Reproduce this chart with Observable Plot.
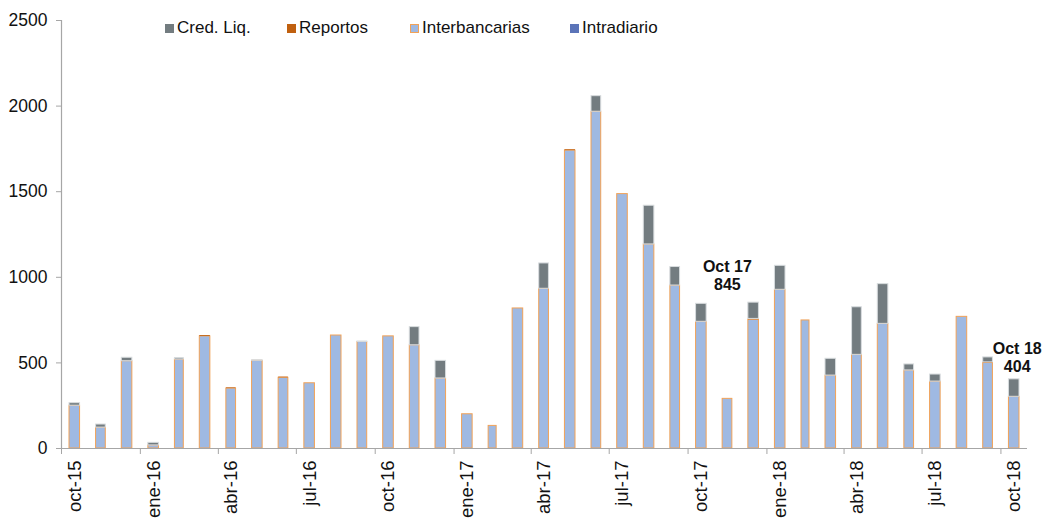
<!DOCTYPE html>
<html>
<head>
<meta charset="utf-8">
<script src="https://cdn.jsdelivr.net/npm/d3@7"></script>
<script src="https://cdn.jsdelivr.net/npm/@observablehq/plot@0.6"></script>
<style>
  html, body { margin: 0; padding: 0; background: #fff; }
  #wrap { position: relative; width: 1044px; height: 519px; font-family: "Liberation Sans", Arial, sans-serif; }
  #legend { position: absolute; top: 18px; left: 0; font-size: 17px; color: #111; }
  #legend .item { position: absolute; top: 0; display: flex; align-items: center; gap: 3px; white-space: nowrap; }
  #legend .sw { width: 9px; height: 9px; box-sizing: border-box; }
</style>
</head>
<body>
<div id="wrap"><div id="legend"></div></div>
<script>
// Months (Spanish labels), oct-15 .. oct-18
const months = ["oct-15","nov-15","dic-15","ene-16","feb-16","mar-16","abr-16","may-16","jun-16","jul-16","ago-16","sep-16",
  "oct-16","nov-16","dic-16","ene-17","feb-17","mar-17","abr-17","may-17","jun-17","jul-17","ago-17","sep-17",
  "oct-17","nov-17","dic-17","ene-18","feb-18","mar-18","abr-18","may-18","jun-18","jul-18","ago-18","sep-18","oct-18"];
const axisLabels = ["oct-15","ene-16","abr-16","jul-16","oct-16","ene-17","abr-17","jul-17","oct-17","ene-18","abr-18","jul-18","oct-18"];
const yTicks = [0, 500, 1000, 1500, 2000, 2500];

const interbancarias = [250,122,510,18,520,655,350,512,413,381,660,622,
  655,603,409,200,132,818,933,1740,1967,1486,1192,952,
  740,290,752,927,748,426,547,728,456,391,769,500,302];
const reportos = [0,0,0,0,0,5,4,0,4,0,0,0,
  0,0,0,0,0,0,0,5,0,0,0,0,
  0,0,5,0,0,0,0,0,0,0,0,3,0];
const credLiq = [15,18,20,15,8,0,0,3,0,0,0,3,
  0,106,103,0,0,0,148,0,91,0,226,108,
  105,0,95,140,0,98,278,232,35,41,0,29,102];
const intradiario = new Array(37).fill(0);

const seriesNames = ["Interbancarias","Reportos","Cred. Liq.","Intradiario"];
const seriesFill = {"Interbancarias":"#9fb9e2","Reportos":"#c0600f","Cred. Liq.":"#737c80","Intradiario":"#5b74b8"};
const seriesStroke = {"Interbancarias":"#f2a257","Reportos":"none","Cred. Liq.":"#d8dcde","Intradiario":"none"};
const legendOrder = ["Cred. Liq.","Reportos","Interbancarias","Intradiario"];
const legendLeft = [165, 287, 410, 570];

const annMonths = ["oct-17", "oct-18"];
const annLabels = ["Oct 17\n845", "Oct 18\n404"];
const annTotals = [845, 404];

const start = new Date(Date.UTC(2015, 9, 1));
const dates = months.map((m, i) => d3.utcMonth.offset(start, i));
const mid = i => new Date((+dates[i] + +d3.utcMonth.offset(dates[i], 1)) / 2);
const end = d3.utcMonth.offset(start, months.length);

const seriesValues = {"Interbancarias": interbancarias, "Reportos": reportos, "Cred. Liq.": credLiq, "Intradiario": intradiario};
const data = [];
months.forEach((m, i) => {
  seriesNames.forEach(s => {
    data.push({date: dates[i], next: d3.utcMonth.offset(dates[i], 1), series: s, value: seriesValues[s][i]});
  });
});

const quarterTicks = axisLabels.map(l => dates[months.indexOf(l)]);
const labelTicks = axisLabels.map(l => mid(months.indexOf(l)));
const labelOf = new Map(labelTicks.map((d, i) => [+d, axisLabels[i]]));

const annData = annMonths.map((m, i) => ({x: mid(months.indexOf(m)), y: annTotals[i], label: annLabels[i]}));

const axisColor = "#a6a6a6";
const annStyle = {x: "x", y: "y", text: "label", lineAnchor: "bottom", fontWeight: "bold", fontSize: 16, lineHeight: 1.12, fill: "#111"};

const chart = Plot.plot({
  width: 1044,
  height: 519,
  marginLeft: 61,
  marginRight: 17,
  marginTop: 20,
  marginBottom: 71,
  style: {fontFamily: "Liberation Sans, Arial, sans-serif", fontSize: "17px", color: "#111", background: "white"},
  x: {type: "utc", domain: [start, end], axis: null},
  y: {domain: [0, 2500], axis: null},
  marks: [
    Plot.rectY(data.filter(d => d.value > 0), {
      x1: "date", x2: "next", y: "value", z: "series", order: seriesNames,
      fill: d => seriesFill[d.series], stroke: d => seriesStroke[d.series], strokeWidth: 1,
      insetLeft: 8, insetRight: 8
    }),
    Plot.ruleY([0], {stroke: axisColor, strokeWidth: 1.2}),
    Plot.ruleX([start], {y1: 0, y2: 2500, stroke: axisColor, strokeWidth: 1.2}),
    Plot.axisY({ticks: yTicks, tickSize: 5, tickPadding: 9, tickFormat: d => String(d), stroke: axisColor, fontSize: 17.5, fill: "#111"}),
    Plot.axisX({ticks: quarterTicks, tickSize: 6, tickFormat: () => "", stroke: axisColor}),
    Plot.axisX({ticks: labelTicks, tickSize: 0, tickPadding: 12, tickRotate: -90, tickFormat: d => labelOf.get(+d), fontSize: 18.5, fill: "#111"}),
    Plot.text([annData[0]], {...annStyle, dx: 26, dy: -14}),
    Plot.text([annData[1]], {...annStyle, dx: 3, dy: -7})
  ]
});

document.getElementById("wrap").prepend(chart);

// Legend
const leg = document.getElementById("legend");
legendOrder.forEach((s, i) => {
  const it = document.createElement("div");
  it.className = "item";
  it.style.left = legendLeft[i] + "px";
  const sw = document.createElement("div");
  sw.className = "sw";
  sw.style.background = seriesFill[s];
  if (s === "Interbancarias") sw.style.border = "1px solid " + seriesStroke[s];
  const tx = document.createElement("span");
  tx.textContent = s;
  it.append(sw, tx);
  leg.append(it);
});
</script>
</body>
</html>
